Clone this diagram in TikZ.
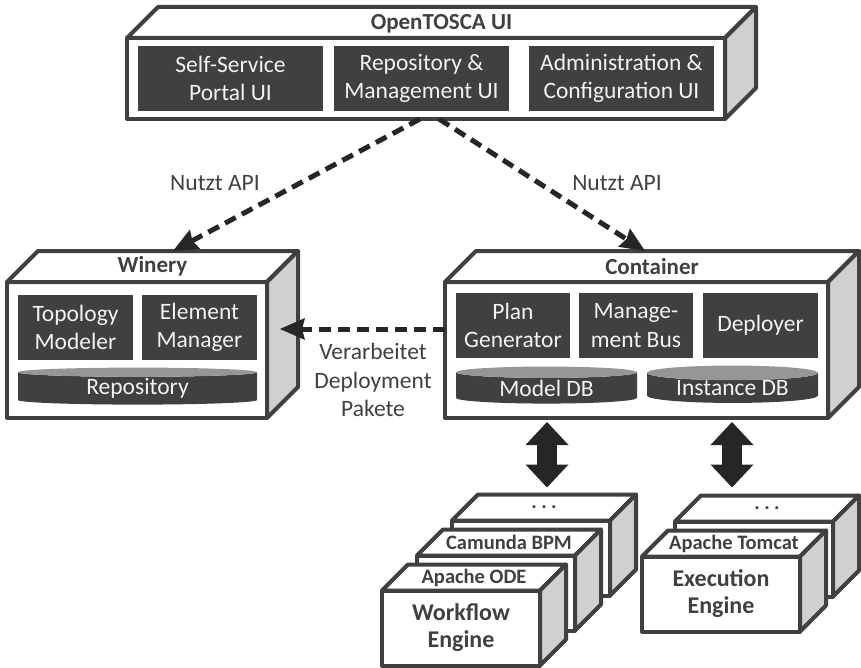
\documentclass[tikz,border=0pt]{standalone}
\usepackage{fontspec}
\setmainfont{Carlito}
\usetikzlibrary{shapes.geometric, arrows.meta, positioning, calc}
\definecolor{boxborder}{RGB}{64, 64, 64}
\definecolor{compfill}{RGB}{64, 64, 64}
\definecolor{comptext}{RGB}{242, 242, 242}
\definecolor{sidefill}{RGB}{208, 208, 208}
\definecolor{dbtop}{RGB}{150, 150, 150}
\definecolor{labelgray}{RGB}{64, 64, 64}
\definecolor{arrowdark}{RGB}{38, 38, 38}

% top and side face of a 3D box, drawn from the front node
\newcommand{\boxfaces}[2]{%
  \draw[facetop] (#1.north west) -- ++(#2,-#2) -- ([shift={(#2,-#2)}]#1.north east) -- (#1.north east) -- cycle;
  \draw[faceside] (#1.north east) -- ++(#2,-#2) -- ([shift={(#2,-#2)}]#1.south east) -- (#1.south east) -- cycle;
}

\begin{document}
\begin{tikzpicture}[
    x=1pt, y=-1pt,
    line join=round,
    % Styles
    layerbox/.style={
        rectangle,
        draw=boxborder,
        fill=white,
        line width=4pt,
        outer sep=0pt,
        inner sep=0pt
    },
    stackbox/.style={
        layerbox,
        minimum width=158pt,
        minimum height=75pt,
        align=center,
        text=labelgray,
        font=\fontsize{24}{27}\selectfont\bfseries
    },
    facetop/.style={draw=boxborder, fill=white, line width=4pt},
    faceside/.style={draw=boxborder, fill=sidefill, line width=4pt},
    compnode/.style={
        rectangle,
        fill=compfill,
        text=comptext,
        inner sep=0pt,
        outer sep=0pt,
        align=center,
        minimum height=65pt,
        font=\fontsize{23.5}{28.5}\selectfont
    },
    dbnode/.style={
        cylinder,
        shape border rotate=90,
        cylinder uses custom fill,
        cylinder body fill=compfill,
        cylinder end fill=dbtop,
        text=comptext,
        inner sep=0pt,
        outer sep=0pt,
        minimum height=37pt,
        font=\fontsize{23.5}{28.5}\selectfont
    },
    titletext/.style={text=labelgray, inner sep=0pt, font=\fontsize{23}{27}\selectfont\bfseries},
    smalltitle/.style={text=labelgray, inner sep=0pt, font=\fontsize{20.5}{24}\selectfont\bfseries},
    labeltext/.style={text=labelgray, inner sep=0pt, align=center, font=\fontsize{23.5}{28.5}\selectfont},
    apiarrow/.style={
        draw=arrowdark,
        line width=5pt,
        dash pattern=on 12pt off 7pt,
        -{Stealth[length=25pt, width=22pt, inset=3pt, line width=0pt]}
    },
    blockarrow/.style={
        draw=arrowdark,
        line width=20pt,
        {Triangle[length=23pt, width=43pt, line width=0pt]}-{Triangle[length=23pt, width=43pt, line width=0pt]}
    }
]
\useasboundingbox (0,0) rectangle (861,668);

% --- OpenTOSCA UI (top) ---
\node (ui) [layerbox, minimum width=598pt, minimum height=81pt] at (426,78.5) {};
\boxfaces{ui}{31}
\node (uititle) [titletext] at ([shift={(15.5,-14)}]ui.north) {OpenTOSCA UI};
\node (selfservice) [compnode, minimum width=185pt] at (230.5,78.5) {Self-Service\\Portal UI};
\node (repomgmt) [compnode, minimum width=175pt] at (421.5,78.5) {Repository \&\\Management UI};
\node (admin) [compnode, minimum width=185pt] at (621.5,78.5) {Administration \&\\Configuration UI};

% --- Winery (left) ---
\node (winery) [layerbox, minimum width=260pt, minimum height=136pt] at (137,350) {};
\boxfaces{winery}{31}
\node (winerytitle) [titletext] at ([shift={(15.5,-15.5)}]winery.north) {Winery};
\node (topomodeler) [compnode, minimum width=115pt] at (75.5,327.5) {Topology\\Modeler};
\node (elemmgr) [compnode, minimum width=115pt] at (199.5,327.5) {Element\\Manager};
\node (repository) [dbnode, minimum width=239pt, aspect=0.09] at (137.5,388.5) {Repository};

% --- Container (right) ---
\node (container) [layerbox, minimum width=383pt, minimum height=136pt] at (636.5,350) {};
\boxfaces{container}{31}
\node (containertitle) [titletext] at ([shift={(15.5,-15.5)}]container.north) {Container};
\node (plangen) [compnode, minimum width=114pt] at (513,325.5) {Plan\\Generator};
\node (mgmtbus) [compnode, minimum width=114pt] at (636,325.5) {Manage-\\ment Bus};
\node (deployer) [compnode, minimum width=115pt] at (760.5,325.5) {Deployer};
\node (modeldb) [dbnode, minimum width=181pt, aspect=0.12] at (546.5,388) {Model DB};
\node (instancedb) [dbnode, minimum width=171pt, aspect=0.13] at (732.5,388) {Instance DB};

% --- Workflow engines (stack, back to front) ---
\node (wfback) [stackbox] at (531,558) {};
\boxfaces{wfback}{26}
\node (wfdots) [smalltitle] at ([shift={(13,-13)}]wfback.north) {.\hspace{4.5pt}.\hspace{4.5pt}.};
\node (wfmid) [stackbox] at (496,593) {};
\boxfaces{wfmid}{26}
\node (wfcamunda) [smalltitle] at ([shift={(13,-13)}]wfmid.north) {Camunda BPM};
\node (wffront) [stackbox] at (461,628) {Workflow\\Engine};
\boxfaces{wffront}{26}
\node (wfode) [smalltitle] at ([shift={(13,-13)}]wffront.north) {Apache ODE};

% --- Execution engines (stack, back to front) ---
\node (exback) [stackbox] at (754,559) {};
\boxfaces{exback}{26}
\node (exdots) [smalltitle] at ([shift={(13,-13)}]exback.north) {.\hspace{4.5pt}.\hspace{4.5pt}.};
\node (exfront) [stackbox] at (721,594) {Execution\\Engine};
\boxfaces{exfront}{26}
\node (extomcat) [smalltitle] at ([shift={(13,-13)}]exfront.north) {Apache Tomcat};

% --- Connections ---
\draw [apiarrow] ([xshift=-6pt]ui.south) -- ([xshift=36pt, yshift=31pt]winery.north);
\draw [apiarrow] ([xshift=13pt]ui.south) -- ([xshift=8.5pt, yshift=31pt]container.north);
\node (apileft) [labeltext] at (215,183) {Nutzt API};
\node (apiright) [labeltext] at (617,183) {Nutzt API};

\draw [apiarrow] ([yshift=21pt]container.west) -- ([xshift=13pt, yshift=21pt]winery.east);
\node (processlabel) [labeltext] at (373,380) {Verarbeitet\\Deployment\\Pakete};

\draw [blockarrow] ([xshift=-89.5pt, yshift=-4pt]container.south) -- ([xshift=16pt, yshift=33pt]wfback.north);
\draw [blockarrow] ([xshift=95.5pt, yshift=-4pt]container.south) -- ([xshift=-22pt, yshift=34pt]exback.north);

\end{tikzpicture}
\end{document}
